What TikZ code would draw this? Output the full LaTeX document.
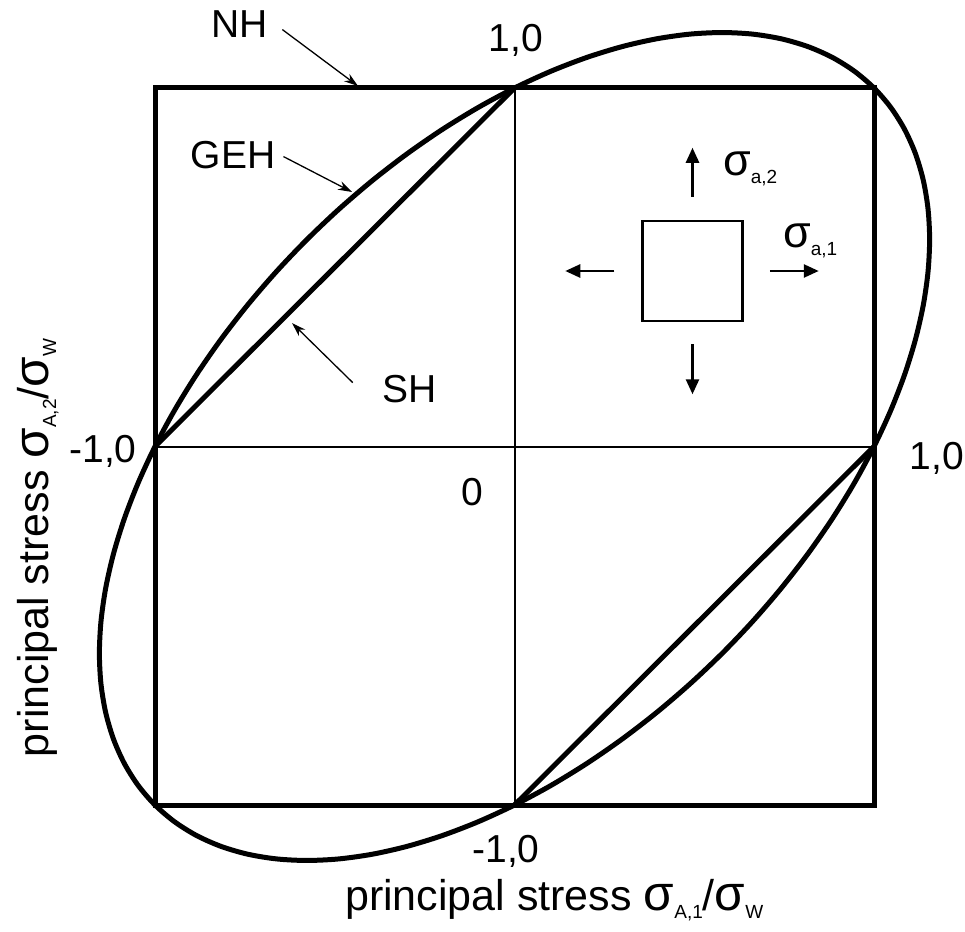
\documentclass[tikz,border=0pt]{standalone}
\usepackage{graphicx}
\usepackage{fontspec}
\setmainfont{Liberation Sans}
\usetikzlibrary{arrows.meta}
% stress symbol with a small, low index
\newcommand{\sig}[1]{\scalebox{1.15}{σ}\raisebox{-8pt}{\fontsize{19}{22}\selectfont #1}}

\begin{document}
\begin{tikzpicture}[
    x=1pt, y=-1pt,
    frame/.style={line width=5pt, line join=miter},
    crit/.style={line width=5pt, line join=round},
    axisline/.style={line width=2pt},
    pointer/.style={-{Stealth[length=14pt, width=9pt]}, line width=1.3pt},
    load/.style={-{Triangle[length=15pt, width=13pt]}, line width=2.6pt},
    tag/.style={font=\fontsize{39}{44}\selectfont, inner sep=2pt},
    axislabel/.style={font=\fontsize{43}{48}\selectfont, inner sep=2pt},
]
\useasboundingbox (0,0) rectangle (965,931);

% stress plane, unit = sigma_W
\begin{scope}[shift={(514.5,446.5)}, x=359.5pt, y=358.5pt]
  \draw[axisline] (-1,0) -- (1,0);
  \draw[axisline] (0,-1) -- (0,1);
  \draw[frame] (-1,-1) rectangle (1,1);
  % SH
  \draw[crit] (-1,0) -- (0,1);
  \draw[crit] (0,-1) -- (1,0);
  % GEH
  \draw[crit] plot[smooth cycle, domain=0:355, samples=72, variable=\t]
    ({cos(\t)+0.57735*sin(\t)}, {cos(\t)-0.57735*sin(\t)});
\end{scope}

% axis values
\node[tag, anchor=base] (top) at (516,52) {1,0};
\node[tag, anchor=base] (left) at (103,462) {-1,0};
\node[tag, anchor=base] (right) at (937,469) {1,0};
\node[tag, anchor=base] (bottom) at (506,862) {-1,0};
\node[tag, anchor=base] (zero) at (472,505) {0};

% hypotheses
\node[tag, anchor=base] (nh) at (240,38) {NH};
\node[tag, anchor=base] (geh) at (233,168) {GEH};
\node[tag, anchor=base] (sh) at (410,402) {SH};
\coordinate (nhtip) at (358,86);
\coordinate (gehtip) at (352,192);
\coordinate (shtip) at (292,323);
\draw[pointer] ([xshift=12pt,yshift=-5pt]nh.east) -- (nhtip);
\draw[pointer] ([xshift=6pt,yshift=-2pt]geh.east) -- (gehtip);
\draw[pointer] ([xshift=-28pt,yshift=6pt]sh.west) -- (shtip);

% loaded element
\node[draw, line width=2.5pt, minimum size=100pt, inner sep=0pt] (elem) at (692.5,271) {};
\draw[load] ([yshift=23pt]elem.north) -- ++(0,-49);
\draw[load] ([yshift=-22pt]elem.south) -- ++(0,50);
\draw[load] ([xshift=26pt]elem.east) -- ++(49,0);
\draw[load] ([xshift=-27pt]elem.west) -- ++(-49,0);
\node[tag, anchor=base west] (s2) at (721,175) {\sig{a,2}};
\node[tag, anchor=base west] (s1) at (781,247) {\sig{a,1}};

% axis titles
\node[axislabel, anchor=base west] (xlab) at (343,910) {principal stress \sig{A,1}/\sig{W}};
\node[axislabel, anchor=base, rotate=90] (ylab) at (48,548) {principal stress \sig{A,2}/\sig{W}};
\end{tikzpicture}
\end{document}
